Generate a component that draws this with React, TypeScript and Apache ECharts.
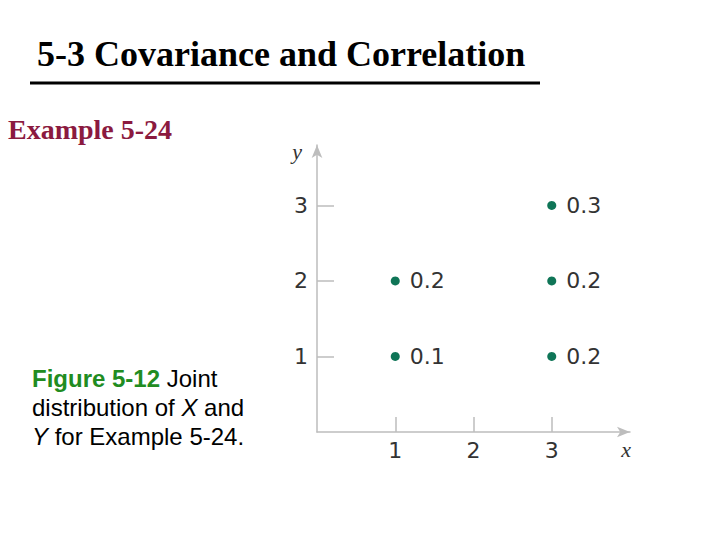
import React, { useEffect, useRef } from "react";
import * as echarts from "echarts";

const xValues = [1, 1, 3, 3, 3];
const yValues = [1, 2, 1, 2, 3];
const probabilities = ["0.1", "0.2", "0.2", "0.2", "0.3"];
const xTicks = [1, 2, 3];
const yTicks = [1, 2, 3];

const titleText = "5-3 Covariance and Correlation";
const exampleText = "Example 5-24";

export default function App() {
  const ref = useRef<HTMLDivElement>(null);
  useEffect(() => {
    document.body.style.margin = "0";
    const chart = echarts.init(ref.current!, null, { renderer: "svg" });
    const axisColor = "#bdbdbd";
    const labelFont = "DejaVu Sans, Verdana, sans-serif";
    const data = xValues.map((x, i) => [x, yValues[i], probabilities[i]]);
    chart.setOption({
      animation: false,
      backgroundColor: "#ffffff",
      grid: { left: 317, top: 145, width: 313, height: 287, containLabel: false },
      xAxis: {
        type: "value",
        min: 0,
        max: 4,
        interval: 1,
        name: "x",
        nameLocation: "end",
        nameGap: -4,
        nameTextStyle: {
          fontFamily: "Liberation Serif, Times New Roman, serif",
          fontStyle: "italic",
          fontSize: 22,
          color: "#333",
          align: "center",
          verticalAlign: "top",
          padding: [6, 0, 0, 0],
        },
        axisLine: {
          show: true,
          lineStyle: { color: axisColor, width: 1.5 },
          symbol: ["none", "arrow"],
          symbolSize: [8, 13],
        },
        axisTick: {
          show: true,
          inside: true,
          length: 15,
          customValues: xTicks,
          lineStyle: { color: axisColor, width: 1.5 },
        },
        axisLabel: {
          customValues: xTicks,
          margin: 7,
          fontSize: 22,
          color: "#333",
          fontFamily: labelFont,
        },
        splitLine: { show: false },
      },
      yAxis: {
        type: "value",
        min: 0,
        max: 3.8,
        interval: 1,
        name: "y",
        nameLocation: "end",
        nameGap: -6,
        nameTextStyle: {
          fontFamily: "Liberation Serif, Times New Roman, serif",
          fontStyle: "italic",
          fontSize: 22,
          color: "#333",
          align: "right",
          verticalAlign: "middle",
          padding: [0, 15, 0, 0],
        },
        axisLine: {
          show: true,
          lineStyle: { color: axisColor, width: 1.5 },
          symbol: ["none", "arrow"],
          symbolSize: [8, 13],
        },
        axisTick: {
          show: true,
          inside: true,
          length: 17,
          customValues: yTicks,
          lineStyle: { color: axisColor, width: 1.5 },
        },
        axisLabel: {
          customValues: yTicks,
          margin: 9,
          fontSize: 22,
          color: "#333",
          fontFamily: labelFont,
        },
        splitLine: { show: false },
      },
      series: [
        {
          type: "scatter",
          data,
          symbolSize: 9,
          itemStyle: { color: "#0f7557", opacity: 1 },
          label: {
            show: true,
            position: "right",
            distance: 10,
            formatter: (p: any) => p.value[2],
            fontSize: 22,
            color: "#333",
            fontFamily: labelFont,
          },
        },
      ],
      graphic: [
        {
          type: "text",
          left: 37,
          top: 36,
          style: {
            text: titleText,
            font: "bold 36px 'Liberation Serif', 'Times New Roman', serif",
            fill: "#000",
          },
        },
        {
          type: "line",
          shape: { x1: 30, y1: 83, x2: 540, y2: 83 },
          style: { stroke: "#000", lineWidth: 3 },
        },
        {
          type: "text",
          left: 8,
          top: 115,
          style: {
            text: exampleText,
            font: "bold 28px 'Liberation Serif', 'Times New Roman', serif",
            fill: "#8b1a3f",
          },
        },
        {
          type: "text",
          left: 32,
          top: 364,
          style: {
            text: "{g|Figure 5-12} Joint\ndistribution of {i|X} and\n{i|Y} for Example 5-24.",
            font: "24px 'Liberation Sans', Arial, sans-serif",
            fill: "#000",
            lineHeight: 29,
            rich: {
              g: {
                fontWeight: "bold",
                fill: "#218c21",
                fontSize: 24,
                fontFamily: "Liberation Sans, Arial, sans-serif",
                lineHeight: 29,
              },
              i: {
                fontStyle: "italic",
                fontSize: 24,
                fontFamily: "Liberation Sans, Arial, sans-serif",
                lineHeight: 29,
              },
            },
          },
        },
      ],
    });
    return () => chart.dispose();
  }, []);
  return <div ref={ref} style={{ width: 720, height: 540 }} />;
}
